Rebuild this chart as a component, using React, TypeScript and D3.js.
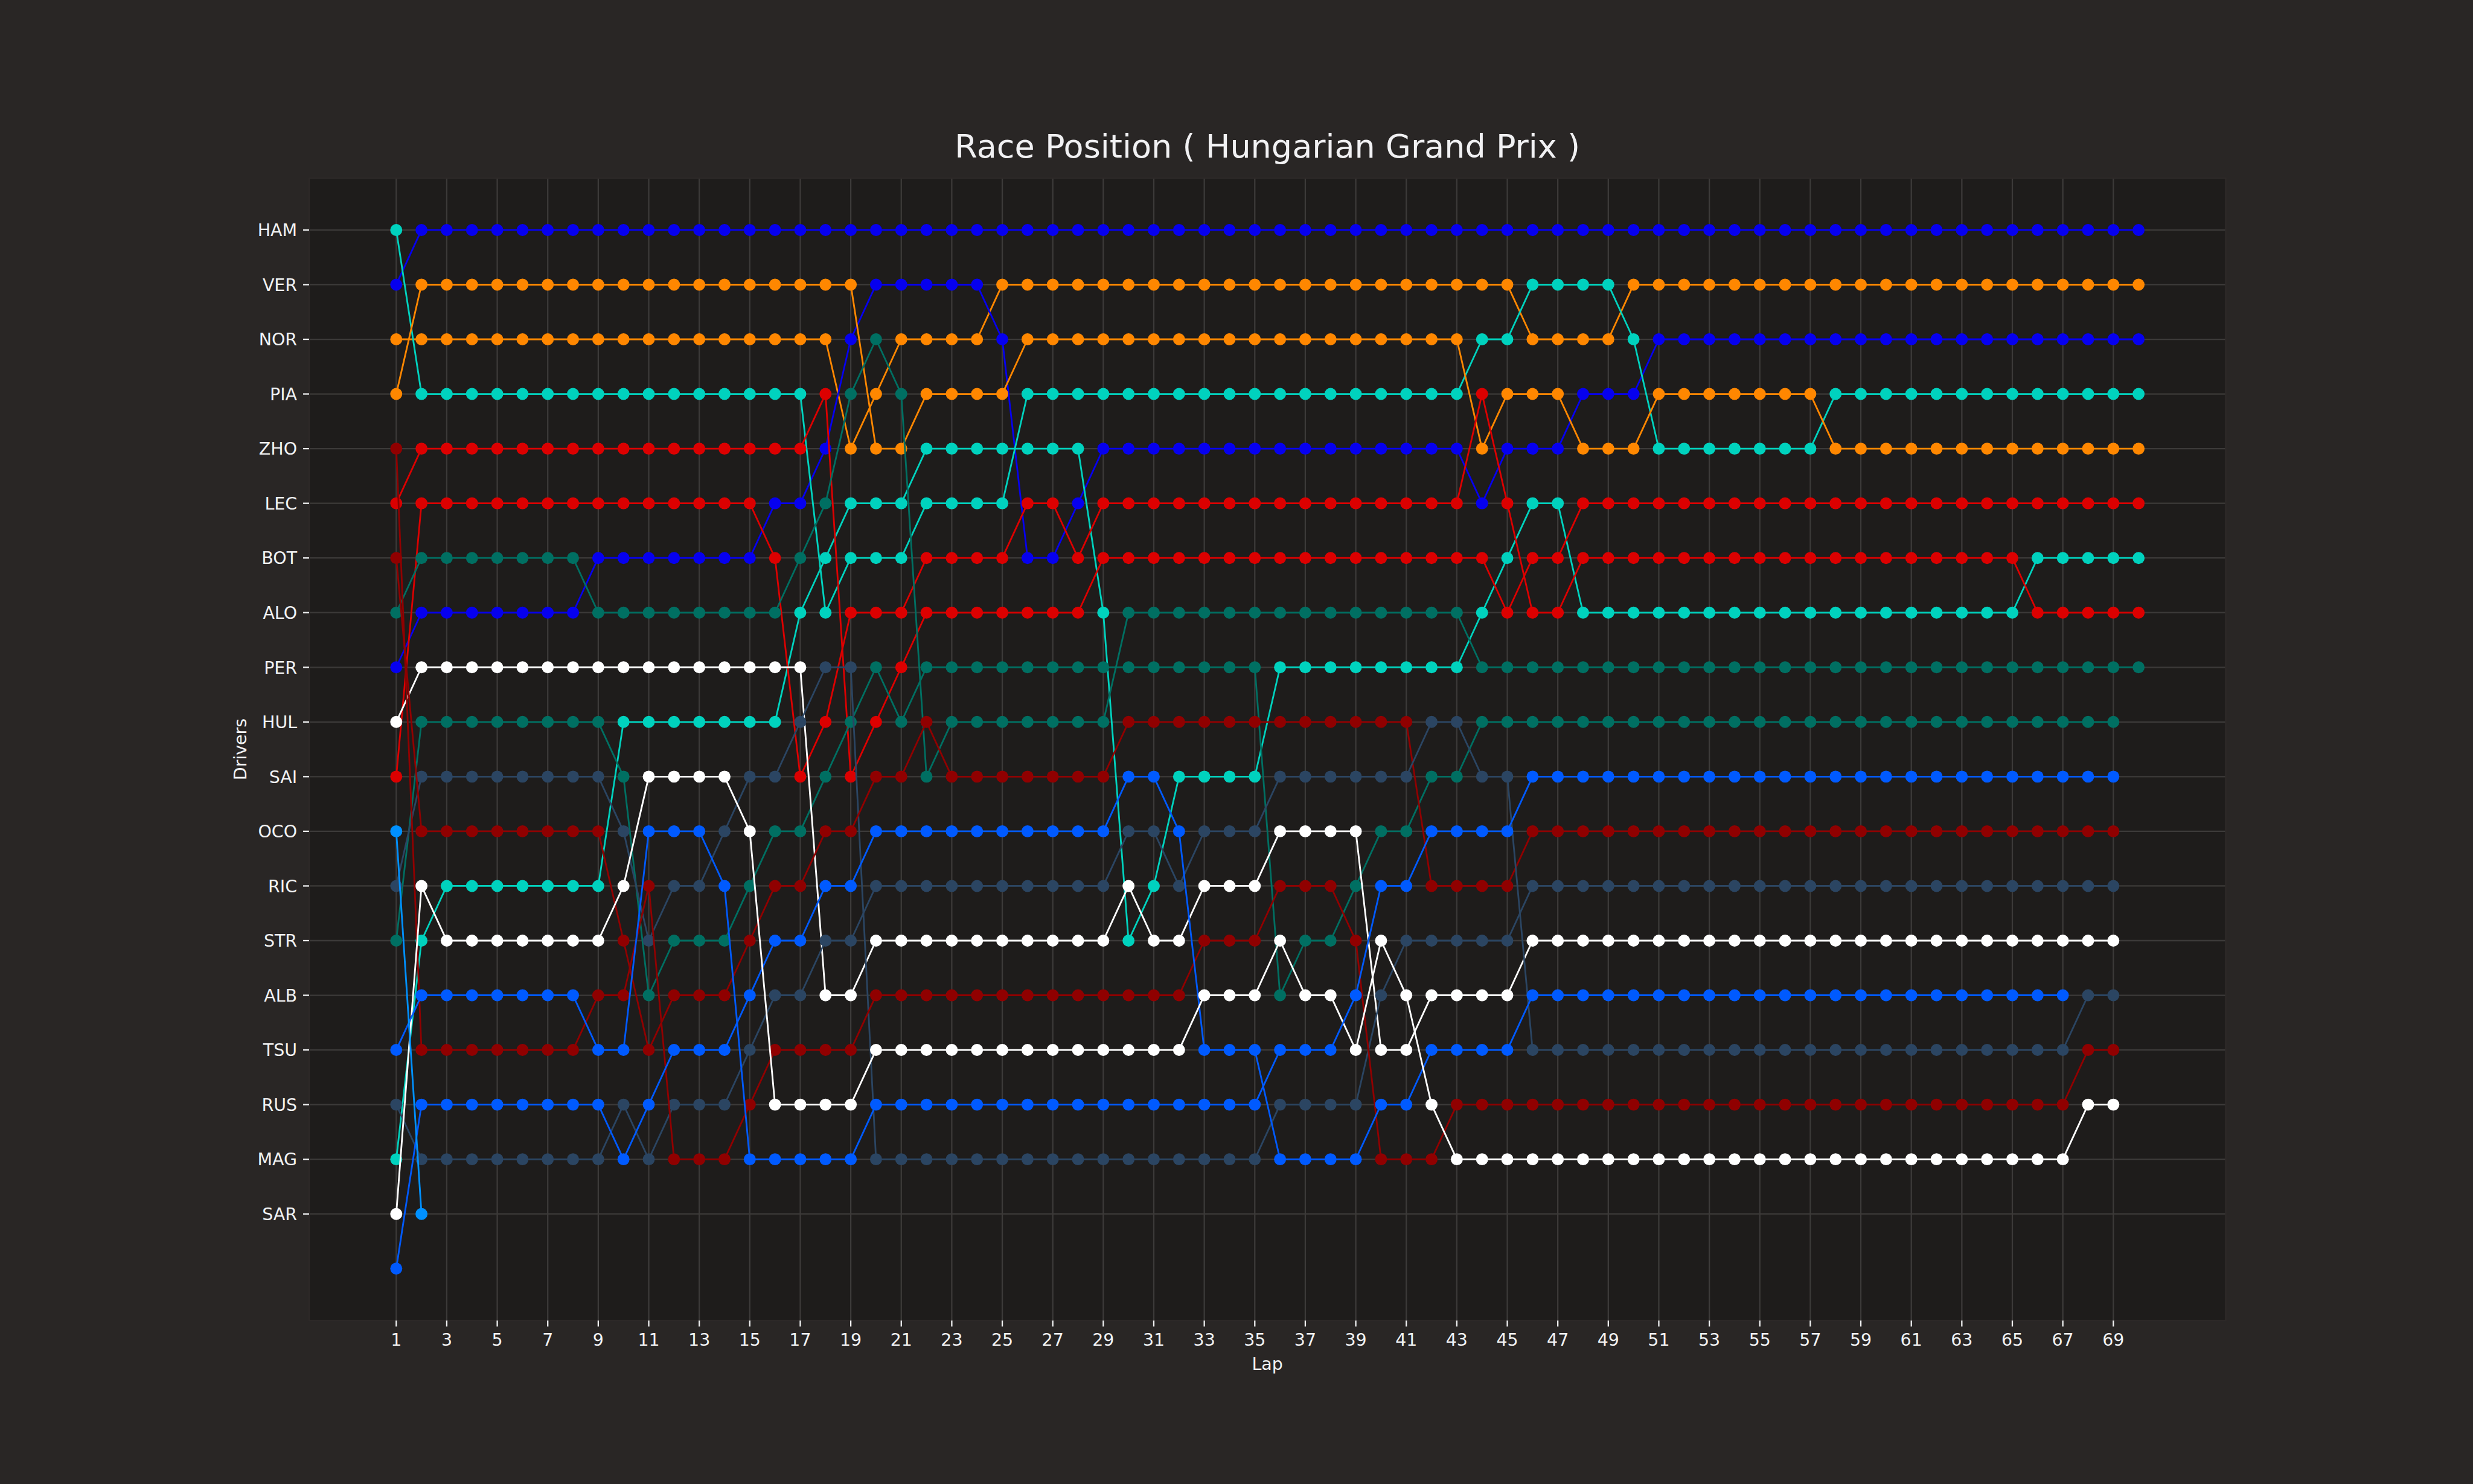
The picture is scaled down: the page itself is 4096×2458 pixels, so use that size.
import React, { useEffect } from "react";
import * as d3 from "d3";

const W = 4096;
const H = 2458;
const S = 4096 / 6000;

const TITLE = "Race Position ( Hungarian Grand Prix )";
const X_LABEL = "Lap";
const Y_LABEL = "Drivers";

const yTickLabels = ["HAM","VER","NOR","PIA","ZHO","LEC","BOT","ALO","PER","HUL","SAI","OCO","RIC","STR","ALB","TSU","RUS","MAG","SAR"];
const xTicks = [1,3,5,7,9,11,13,15,17,19,21,23,25,27,29,31,33,35,37,39,41,43,45,47,49,51,53,55,57,59,61,63,65,67,69];

// positions per lap (lap = index + 1)
const VER = [2,1,1,1,1,1,1,1,1,1, 1,1,1,1,1,1,1,1,1,1, 1,1,1,1,1,1,1,1,1,1, 1,1,1,1,1,1,1,1,1,1, 1,1,1,1,1,1,1,1,1,1, 1,1,1,1,1,1,1,1,1,1, 1,1,1,1,1,1,1,1,1,1];
const PER = [9,8,8,8,8,8,8,8,7,7, 7,7,7,7,7,6,6,5,3,2, 2,2,2,2,3,7,7,6,5,5, 5,5,5,5,5,5,5,5,5,5, 5,5,5,6,5,5,5,4,4,4, 3,3,3,3,3,3,3,3,3,3, 3,3,3,3,3,3,3,3,3,3];
const NOR = [3,3,3,3,3,3,3,3,3,3, 3,3,3,3,3,3,3,3,5,4, 3,3,3,3,2,2,2,2,2,2, 2,2,2,2,2,2,2,2,2,2, 2,2,2,2,2,3,3,3,3,2, 2,2,2,2,2,2,2,2,2,2, 2,2,2,2,2,2,2,2,2,2];
const PIA = [4,2,2,2,2,2,2,2,2,2, 2,2,2,2,2,2,2,2,2,5, 5,4,4,4,4,3,3,3,3,3, 3,3,3,3,3,3,3,3,3,3, 3,3,3,5,4,4,4,5,5,5, 4,4,4,4,4,4,4,5,5,5, 5,5,5,5,5,5,5,5,5,5];
const HAM = [1,4,4,4,4,4,4,4,4,4, 4,4,4,4,4,4,4,8,7,7, 7,6,6,6,6,4,4,4,4,4, 4,4,4,4,4,4,4,4,4,4, 4,4,4,3,3,2,2,2,2,3, 5,5,5,5,5,5,5,4,4,4, 4,4,4,4,4,4,4,4,4,4];
const RUS = [18,14,13,13,13,13,13,13,13,10, 10,10,10,10,10,10,8,7,6,6, 6,5,5,5,5,5,5,5,8,14, 13,11,11,11,11,9,9,9,9,9, 9,9,9,8,7,6,6,8,8,8, 8,8,8,8,8,8,8,8,8,8, 8,8,8,8,8,7,7,7,7,7];
const LEC = [6,5,5,5,5,5,5,5,5,5, 5,5,5,5,5,5,5,4,11,10, 9,8,8,8,8,8,8,8,7,7, 7,7,7,7,7,7,7,7,7,7, 7,7,7,7,8,7,7,6,6,6, 6,6,6,6,6,6,6,6,6,6, 6,6,6,6,6,6,6,6,6,6];
const SAI = [11,6,6,6,6,6,6,6,6,6, 6,6,6,6,6,7,11,10,8,8, 8,7,7,7,7,6,6,7,6,6, 6,6,6,6,6,6,6,6,6,6, 6,6,6,4,6,8,8,7,7,7, 7,7,7,7,7,7,7,7,7,7, 7,7,7,7,7,8,8,8,8,8];
const ALO = [8,7,7,7,7,7,7,7,8,8, 8,8,8,8,8,8,7,6,4,3, 4,11,10,10,10,10,10,10,10,8, 8,8,8,8,8,8,8,8,8,8, 8,8,8,9,9,9,9,9,9,9, 9,9,9,9,9,9,9,9,9,9, 9,9,9,9,9,9,9,9,9,9];
const STR = [14,10,10,10,10,10,10,10,10,11, 15,14,14,14,13,12,12,11,10,9, 10,9,9,9,9,9,9,9,9,9, 9,9,9,9,9,15,14,14,13,12, 12,11,11,10,10,10,10,10,10,10, 10,10,10,10,10,10,10,10,10,10, 10,10,10,10,10,10,10,10,10,null];
const HUL = [10,9,9,9,9,9,9,9,9,9, 9,9,9,9,9,9,9,15,15,14, 14,14,14,14,14,14,14,14,14,13, 14,14,13,13,13,12,12,12,12,16, 16,15,15,15,15,14,14,14,14,14, 14,14,14,14,14,14,14,14,14,14, 14,14,14,14,14,14,14,14,14,null];
const MAG = [19,13,14,14,14,14,14,14,14,13, 11,11,11,11,12,17,17,17,17,16, 16,16,16,16,16,16,16,16,16,16, 16,16,15,15,15,14,15,15,16,14, 15,17,18,18,18,18,18,18,18,18, 18,18,18,18,18,18,18,18,18,18, 18,18,18,18,18,18,18,17,17,null];
const RIC = [13,11,11,11,11,11,11,11,11,12, 14,13,13,12,11,11,10,9,9,18, 18,18,18,18,18,18,18,18,18,18, 18,18,18,18,18,17,17,17,17,15, 14,14,14,14,14,13,13,13,13,13, 13,13,13,13,13,13,13,13,13,13, 13,13,13,13,13,13,13,13,13,null];
const TSU = [17,18,18,18,18,18,18,18,18,17, 18,17,17,17,16,15,15,14,14,13, 13,13,13,13,13,13,13,13,13,12, 12,13,12,12,12,11,11,11,11,11, 11,10,10,11,11,16,16,16,16,16, 16,16,16,16,16,16,16,16,16,16, 16,16,16,16,16,16,16,15,15,null];
const ZHO = [5,16,16,16,16,16,16,16,15,15, 13,18,18,18,17,16,16,16,16,15, 15,15,15,15,15,15,15,15,15,15, 15,15,14,14,14,13,13,13,14,18, 18,18,17,17,17,17,17,17,17,17, 17,17,17,17,17,17,17,17,17,17, 17,17,17,17,17,17,17,16,16,null];
const BOT = [7,12,12,12,12,12,12,12,12,14, 16,15,15,15,14,13,13,12,12,11, 11,10,11,11,11,11,11,11,11,10, 10,10,10,10,10,10,10,10,10,10, 10,13,13,13,13,12,12,12,12,12, 12,12,12,12,12,12,12,12,12,12, 12,12,12,12,12,12,12,12,12,null];
const ALB = [16,15,15,15,15,15,15,15,16,16, 12,12,12,13,18,18,18,18,18,17, 17,17,17,17,17,17,17,17,17,17, 17,17,17,17,17,16,16,16,15,13, 13,12,12,12,12,11,11,11,11,11, 11,11,11,11,11,11,11,11,11,11, 11,11,11,11,11,11,11,11,11,null];
const SAR = [20,17,17,17,17,17,17,17,17,18, 17,16,16,16,15,14,14,13,13,12, 12,12,12,12,12,12,12,12,12,11, 11,12,16,16,16,18,18,18,18,17, 17,16,16,16,16,15,15,15,15,15, 15,15,15,15,15,15,15,15,15,15, 15,15,15,15,15,15,15,null,null,null];
const OCO = [12,19];

const driverOrder = ["VER","NOR","PER","HAM","PIA","RUS","LEC","SAI","ALO","STR","HUL","RIC","BOT","TSU","ZHO","SAR","MAG","ALB","OCO"];
const positions: Record<string, (number | null)[]> = { VER, PER, NOR, PIA, HAM, RUS, LEC, SAI, ALO, STR, HUL, MAG, RIC, TSU, ZHO, BOT, ALB, SAR, OCO };
const teamColors: Record<string, string> = {
  VER: "#0600ef", PER: "#0600ef",
  NOR: "#ff8700", PIA: "#ff8700",
  HAM: "#00d2be", RUS: "#00d2be",
  LEC: "#dc0000", SAI: "#dc0000",
  ALO: "#006f62", STR: "#006f62",
  HUL: "#ffffff", MAG: "#ffffff",
  RIC: "#2b4562", TSU: "#2b4562",
  ZHO: "#900000", BOT: "#900000",
  ALB: "#005aff", SAR: "#005aff",
  OCO: "#0090ff",
};

export default function App() {
  useEffect(() => {
    document.body.style.margin = "0";
    document.body.style.background = "#292625";
    document.body.style.overflow = "hidden";
  }, []);

  const left = 750 * S, right = 5400 * S, top = 432 * S, bottom = 3204 * S;
  const x = d3.scaleLinear().domain([1 - 0.05 * 69, 70 + 0.05 * 69]).range([left, right]);
  const y = d3.scaleLinear().domain([1 - 0.05 * 19, 20 + 0.05 * 19]).range([top, bottom]);

  const pt = 300 / 72 * S; // one point in output px
  const tickFs = 10 * pt;
  const titleFs = 19 * pt;
  const tickLen = 3.5 * pt;
  const tickPad = 3.5 * pt;
  const font = "'DejaVu Sans', sans-serif";
  const textColor = "#f1f2f3";
  const gridColor = "#3c3a39";

  const line = d3
    .line<[number, number | null]>()
    .defined((d) => d[1] != null)
    .x((d) => x(d[0]))
    .y((d) => y(d[1] as number));

  const yTicks = yTickLabels.map((_, i) => i + 1);

  return (
    <svg width={W} height={H} viewBox={`0 0 ${W} ${H}`} style={{ display: "block", position: "fixed", left: 0, top: 0 }}>
      <rect x={0} y={0} width={W} height={H} fill="#292625" />
      <rect x={left} y={top} width={right - left} height={bottom - top} fill="#1e1c1b" />
      {/* grid */}
      <g stroke={gridColor} strokeWidth={0.8 * pt}>
        {xTicks.map((t) => (
          <line key={"gx" + t} x1={x(t)} x2={x(t)} y1={top} y2={bottom} />
        ))}
        {yTicks.map((t) => (
          <line key={"gy" + t} x1={left} x2={right} y1={y(t)} y2={y(t)} />
        ))}
      </g>
      {/* series */}
      {driverOrder.map((drv) => {
        const vals = positions[drv];
        const pts: [number, number | null][] = vals.map((v, i) => [i + 1, v]);
        const c = teamColors[drv];
        return (
          <g key={drv}>
            <path d={line(pts) || ""} fill="none" stroke={c} strokeWidth={1 * pt} strokeLinejoin="round" strokeLinecap="butt" />
            {pts
              .filter((p) => p[1] != null)
              .map((p) => (
                <circle key={p[0]} cx={x(p[0])} cy={y(p[1] as number)} r={3.5 * pt} fill={c} />
              ))}
          </g>
        );
      })}
      {/* spines */}
      <rect x={left} y={top} width={right - left} height={bottom - top} fill="none" stroke="#2d2928" strokeWidth={0.8 * pt} />
      {/* x ticks */}
      <g>
        {xTicks.map((t) => (
          <g key={"xt" + t}>
            <line x1={x(t)} x2={x(t)} y1={bottom} y2={bottom + tickLen} stroke={textColor} strokeWidth={0.8 * pt} />
            <text x={x(t)} y={bottom + tickLen + tickPad + 0.76 * tickFs} fill={textColor} fontSize={tickFs} fontFamily={font} textAnchor="middle">
              {t}
            </text>
          </g>
        ))}
      </g>
      {/* y ticks */}
      <g>
        {yTicks.map((t, i) => (
          <g key={"yt" + t}>
            <line x1={left - tickLen} x2={left} y1={y(t)} y2={y(t)} stroke={textColor} strokeWidth={0.8 * pt} />
            <text x={left - tickLen - tickPad} y={y(t) + 0.36 * tickFs} fill={textColor} fontSize={tickFs} fontFamily={font} textAnchor="end">
              {yTickLabels[i]}
            </text>
          </g>
        ))}
      </g>
      {/* axis labels */}
      <text x={(left + right) / 2} y={3323 * S} fill={textColor} fontSize={tickFs} fontFamily={font} textAnchor="middle">
        {X_LABEL}
      </text>
      <text
        x={598 * S}
        y={(top + bottom) / 2}
        fill={textColor}
        fontSize={tickFs}
        fontFamily={font}
        textAnchor="middle"
        transform={`rotate(-90, ${598 * S}, ${(top + bottom) / 2})`}
      >
        {Y_LABEL}
      </text>
      {/* title */}
      <text x={(left + right) / 2} y={383 * S} fill="#f1f1f3" fontSize={titleFs} fontFamily={font} textAnchor="middle">
        {TITLE}
      </text>
    </svg>
  );
}
